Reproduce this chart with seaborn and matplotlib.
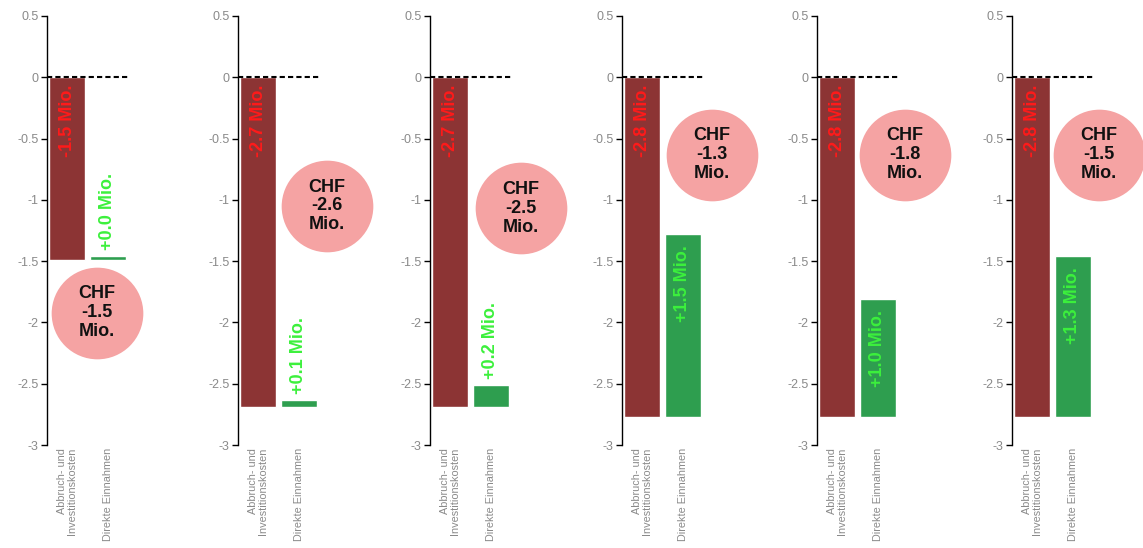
import matplotlib
matplotlib.use("Agg")
import matplotlib.pyplot as plt
import seaborn as sns

# Categories on each panel's x axis
categories = ["Abbruch- und\nInvestitionskosten", "Direkte Einnahmen"]

# Costs (CHF Mio., drawn downwards from 0) and direct income per scenario
costs = [1.49, 2.69, 2.69, 2.77, 2.77, 2.77]
incomes = [0.03, 0.06, 0.18, 1.49, 0.96, 1.31]

# Y axis ticks and their labels
y_ticks = [0.5, 0, -0.5, -1, -1.5, -2, -2.5, -3]
y_tick_labels = ["0.5", "0", "-0.5", "-1", "-1.5", "-2", "-2.5", "-3"]

# Layout: left edge of each panel (pixels) and centre of the net-result bubble (data units)
panel_left_px = [47, 238, 430, 622, 817, 1012]
bubble_xy = [(0.73, -1.92), (1.70, -1.05), (1.75, -1.07),
             (1.72, -0.63), (1.67, -0.63), (1.65, -0.63)]

RED = "#8c3434"
GREEN = "#2e9e4f"
PINK = "#f5a3a3"
RED_TXT = "#ff1a1a"
GREEN_TXT = "#3cf03c"
GREY = "#8a8a8a"

sns.set_theme(style="white")
plt.rcParams["font.family"] = ["Liberation Sans", "DejaVu Sans"]

W, H = 1143, 548
fig = plt.figure(figsize=(W / 100, H / 100), dpi=100)
fig.patch.set_facecolor("white")

top_px, bottom_px, panel_w_px = 16, 445, 81

for left, cost, inc, (bx, by) in zip(panel_left_px, costs, incomes, bubble_xy):
    ax = fig.add_axes([left / W, (H - bottom_px) / H, panel_w_px / W,
                       (bottom_px - top_px) / H])
    ax.set_facecolor("none")

    # cost bar hanging from zero
    sns.barplot(x=[categories[0]], y=[-cost], order=categories, color=RED,
                saturation=1, width=0.9, errorbar=None, ax=ax, zorder=2)
    # income bar floating from the bottom of the cost bar
    sns.barplot(x=[categories[1]], y=[inc], order=categories, color=GREEN,
                saturation=1, width=0.9, errorbar=None, bottom=-cost, ax=ax,
                zorder=2)

    ax.axhline(0, color="black", lw=1.5, linestyle=(0, (2.5, 1.5)), zorder=3)

    ax.set_xlim(-0.5, 1.5)
    ax.set_ylim(-3, 0.5)
    ax.set_yticks(y_ticks, y_tick_labels)
    ax.set_xlabel("")
    ax.set_ylabel("")

    sns.despine(ax=ax, bottom=True)
    ax.spines["left"].set_color("black")
    ax.spines["left"].set_linewidth(1.0)
    ax.tick_params(axis="y", left=True, direction="out", length=4, width=1,
                   color="black", labelcolor=GREY, labelsize=9, pad=2)
    ax.tick_params(axis="x", bottom=False, length=0, labelrotation=90,
                   labelcolor=GREY, labelsize=7.8, pad=2)
    for lab in ax.get_xticklabels():
        lab.set_multialignment("right")
        lab.set_linespacing(1.0)

    # value labels
    ax.text(0, -0.06, f"{-cost:.1f} Mio.", rotation=90, ha="center", va="top",
            color=RED_TXT, fontsize=13, fontweight="bold", zorder=4)
    top = -cost + inc
    if inc > 0.8:
        ax.text(1, top - 0.09, f"+{inc:.1f} Mio.", rotation=90, ha="center",
                va="top", color=GREEN_TXT, fontsize=13, fontweight="bold",
                zorder=4)
    else:
        ax.text(1, top + 0.05, f"+{inc:.1f} Mio.", rotation=90, ha="center",
                va="bottom", color=GREEN_TXT, fontsize=13, fontweight="bold",
                zorder=4)

    # net result bubble
    net = -cost + inc
    ax.scatter([bx], [by], s=66 ** 2, color=PINK, linewidths=0,
               clip_on=False, zorder=5)
    ax.text(bx, by, f"CHF\n{net:.1f}\nMio.", ha="center", va="center",
            fontsize=13, fontweight="bold", color="#111111",
            linespacing=1.15, zorder=6, clip_on=False)

fig.savefig("out.png", dpi=100, facecolor="white")
